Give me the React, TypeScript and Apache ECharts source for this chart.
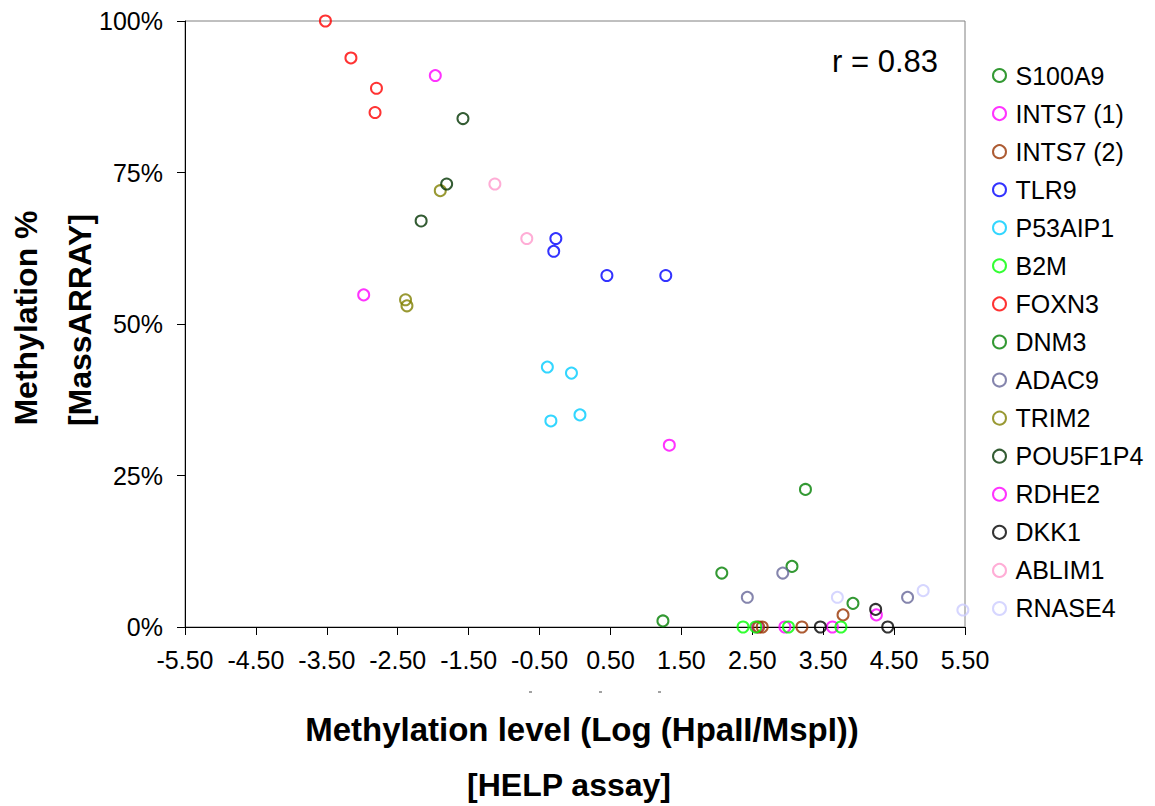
import React, { useEffect, useRef } from "react";
import * as echarts from "echarts";

const FONT = "'Liberation Sans', Arial, Helvetica, sans-serif";

// x = Log(HpaII/MspI) [HELP assay], y = Methylation % [MassARRAY]
const S100A9 = [[3.25, 22.7], [2.07, 8.9], [1.24, 1.0]];
const INTS7_1 = [[2.57, 0], [2.96, 0], [3.63, 0], [4.25, 2.0]];
const INTS7_2 = [[2.59, 0], [2.64, 0], [3.2, 0], [3.78, 2.0]];
const TLR9 = [[-0.27, 64.1], [-0.3, 62.0], [0.45, 58.0], [1.28, 58.0]];
const P53AIP1 = [[-0.39, 42.9], [-0.05, 41.9], [-0.34, 34.0], [0.07, 35.0]];
const B2M = [[2.37, 0], [2.55, 0], [3.01, 0], [3.75, 0]];
const FOXN3 = [[-3.52, 100], [-3.16, 93.9], [-2.8, 88.9], [-2.82, 84.9]];
const DNM3 = [[3.06, 10.0], [3.92, 3.9]];
const ADAC9 = [[2.93, 8.9], [2.43, 4.9], [4.69, 4.9]];
const TRIM2 = [[-1.9, 72.0], [-2.39, 54.0], [-2.37, 53.0]];
const POU5F1P4 = [[-1.58, 83.9], [-1.81, 73.1], [-2.17, 67.0]];
const RDHE2 = [[-1.97, 91.0], [-2.98, 54.8], [1.33, 30.0]];
const DKK1 = [[4.24, 2.9], [3.46, 0], [4.41, 0]];
const ABLIM1 = [[-1.13, 73.1], [-0.68, 64.1]];
const RNASE4 = [[3.7, 4.9], [4.91, 6.0], [5.47, 2.8]];

const seriesNames = [
  "S100A9", "INTS7 (1)", "INTS7 (2)", "TLR9", "P53AIP1", "B2M", "FOXN3", "DNM3",
  "ADAC9", "TRIM2", "POU5F1P4", "RDHE2", "DKK1", "ABLIM1", "RNASE4",
];
const seriesData = [
  S100A9, INTS7_1, INTS7_2, TLR9, P53AIP1, B2M, FOXN3, DNM3,
  ADAC9, TRIM2, POU5F1P4, RDHE2, DKK1, ABLIM1, RNASE4,
];
const seriesColors = [
  "#008000", "#FF00FF", "#993300", "#0000FF", "#00CCFF", "#00FF00", "#FF0000", "#008000",
  "#666699", "#808000", "#003300", "#FF00FF", "#000000", "#FF99CC", "#CCCCFF",
];

const X_MIN = -5.5;
const X_MAX = 5.5;
const Y_TICKS = [0, 25, 50, 75, 100];
const R_TEXT = "r = 0.83";

export default function App() {
  const ref = useRef<HTMLDivElement>(null);

  useEffect(() => {
    if (!ref.current) return;
    const chart = echarts.init(ref.current, undefined, { renderer: "svg" });
    const series = seriesNames.map((name, i) => ({
      name,
      type: "scatter",
      data: seriesData[i],
      symbol: "circle",
      symbolSize: 11,
      clip: false,
      itemStyle: {
        color: "rgba(255,255,255,0)",
        borderColor: seriesColors[i],
        borderWidth: 2,
      },
      emphasis: { disabled: true },
    }));

    chart.setOption({
      animation: false,
      backgroundColor: "#ffffff",
      textStyle: { fontFamily: FONT },
      grid: {
        left: 185,
        top: 21,
        width: 780,
        height: 606,
        show: true,
        borderColor: "#808080",
        borderWidth: 1,
        backgroundColor: "rgba(0,0,0,0)",
      },
      legend: {
        orient: "vertical",
        left: 987,
        top: 58,
        icon: "circle",
        itemWidth: 22,
        itemHeight: 13,
        itemGap: 13.07,
        selectedMode: false,
        data: seriesNames.map((n, i) => ({
          name: n,
          itemStyle: { color: "rgba(255,255,255,0)", borderColor: seriesColors[i], borderWidth: 2 },
        })),
        textStyle: { fontSize: 25, lineHeight: 25, color: "#000", fontFamily: FONT },
      },
      xAxis: {
        type: "value",
        min: X_MIN,
        max: X_MAX,
        interval: 1,
        splitLine: { show: false },
        axisLine: { show: true, onZero: false, lineStyle: { color: "#000", width: 1 } },
        axisTick: { show: true, inside: false, length: 8, lineStyle: { color: "#000" } },
        axisLabel: {
          show: true,
          interval: 0,
          showMinLabel: true,
          showMaxLabel: true,
          formatter: (v: number) => v.toFixed(2),
          fontSize: 25,
          color: "#000",
          margin: 20,
          fontFamily: FONT,
        },
      },
      yAxis: {
        type: "value",
        min: Y_TICKS[0],
        max: Y_TICKS[Y_TICKS.length - 1],
        interval: 25,
        splitLine: { show: false },
        axisLine: { show: true, onZero: false, lineStyle: { color: "#000", width: 1 } },
        axisTick: { show: true, inside: false, length: 8, lineStyle: { color: "#000" } },
        axisLabel: {
          formatter: (v: number) => `${v}%`,
          fontSize: 25,
          color: "#000",
          margin: 22,
          fontFamily: FONT,
        },
      },
      graphic: [
        {
          type: "text",
          left: 832,
          top: 46,
          style: { text: R_TEXT, fontSize: 31, fill: "#000", fontFamily: FONT },
        },
        {
          type: "text",
          x: 582,
          y: 729,
          style: {
            text: "Methylation level (Log (HpaII/MspI))",
            fontSize: 33,
            fontWeight: "bold",
            fill: "#000",
            fontFamily: FONT,
            align: "center",
            verticalAlign: "middle",
          },
        },
        {
          type: "text",
          x: 569,
          y: 785,
          style: {
            text: "[HELP assay]",
            fontSize: 32,
            fontWeight: "bold",
            fill: "#000",
            fontFamily: FONT,
            align: "center",
            verticalAlign: "middle",
          },
        },
        {
          type: "text",
          x: 26,
          y: 318,
          rotation: Math.PI / 2,
          style: {
            text: "Methylation %",
            fontSize: 32,
            fontWeight: "bold",
            fill: "#000",
            fontFamily: FONT,
            align: "center",
            verticalAlign: "middle",
          },
        },
        {
          type: "text",
          x: 80,
          y: 320,
          rotation: Math.PI / 2,
          style: {
            text: "[MassARRAY]",
            fontSize: 32,
            fontWeight: "bold",
            fill: "#000",
            fontFamily: FONT,
            align: "center",
            verticalAlign: "middle",
          },
        },
        { type: "line", shape: { x1: 529, y1: 692, x2: 532, y2: 692 }, style: { stroke: "#444", lineWidth: 1 } },
        { type: "line", shape: { x1: 599, y1: 692, x2: 602, y2: 692 }, style: { stroke: "#444", lineWidth: 1 } },
        { type: "line", shape: { x1: 658, y1: 692, x2: 661, y2: 692 }, style: { stroke: "#444", lineWidth: 1 } },
      ],
      series,
    });
    return () => chart.dispose();
  }, []);

  return (
    <div
      ref={ref}
      style={{ position: "absolute", left: 0, top: 0, width: 1155, height: 806 }}
    />
  );
}
